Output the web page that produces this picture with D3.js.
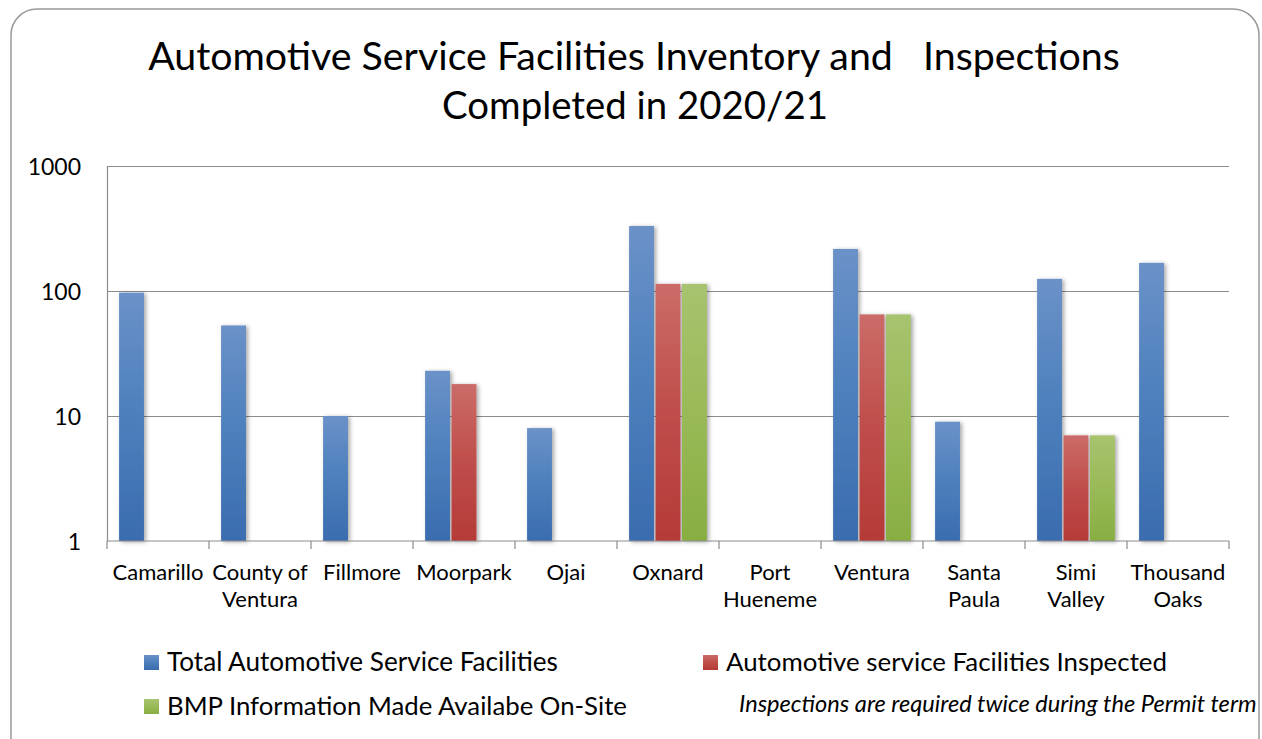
<!DOCTYPE html>
<html>
<head>
<meta charset="utf-8">
<script src="https://cdn.jsdelivr.net/npm/d3@7"></script>
<style>
  body { margin: 0; background: #fff; }
  svg text { font-family: Lato, "Open Sans", sans-serif; fill: #000; }
</style>
</head>
<body>
<svg id="chart" width="1262" height="739"></svg>
<script>
// Data
const categories = ['Camarillo', 'County of\nVentura', 'Fillmore', 'Moorpark', 'Ojai', 'Oxnard',
  'Port\nHueneme', 'Ventura', 'Santa\nPaula', 'Simi\nValley', 'Thousand\nOaks'];
const totalFacilities = [97, 53, 10, 23, 8, 331, null, 217, 9, 125, 168];
const facilitiesInspected = [null, null, null, 18, null, 114, null, 65, null, 7, null];
const bmpInfo = [null, null, null, null, null, 114, null, 65, null, 7, null];
const seriesNames = ['Total Automotive Service Facilities', 'Automotive service Facilities Inspected',
  'BMP Information Made Availabe On-Site'];
const yTicks = [1, 10, 100, 1000];

const series = [totalFacilities, facilitiesInspected, bmpInfo];
const colors = [
  { top: '#6b91c8', mid: '#4f81bd', bottom: '#3a6caf' },
  { top: '#cb6c69', mid: '#c0504d', bottom: '#b53a37' },
  { top: '#a7c36f', mid: '#9bbb59', bottom: '#88ae42' }
];

const svg = d3.select('#chart');
const margin = { top: 166, left: 107, right: 33, bottom: 198 };
const width = 1262 - margin.left - margin.right;
const height = 739 - margin.top - margin.bottom;

// scale a text's font-size so it spans the wanted width
function fitWidth(sel, w) {
  const node = sel.node();
  const fs = parseFloat(sel.attr('font-size'));
  const cur = node.getComputedTextLength ? node.getBBox().width : w;
  sel.attr('font-size', fs * w / cur);
}

// Gradients + shadow
const defs = svg.append('defs');
colors.forEach((c, i) => {
  const g = defs.append('linearGradient').attr('id', 'grad' + i)
    .attr('x1', 0).attr('y1', 0).attr('x2', 0).attr('y2', 1);
  g.append('stop').attr('offset', '0%').attr('stop-color', c.top);
  g.append('stop').attr('offset', '45%').attr('stop-color', c.mid);
  g.append('stop').attr('offset', '100%').attr('stop-color', c.bottom);
});
const shadow = defs.append('filter').attr('id', 'shadow')
  .attr('x', '-30%').attr('y', '-10%').attr('width', '170%').attr('height', '130%');
shadow.append('feDropShadow').attr('dx', 2).attr('dy', 1).attr('stdDeviation', 2)
  .attr('flood-color', '#000').attr('flood-opacity', 0.35);

// Outer rounded frame
svg.append('rect')
  .attr('x', 11).attr('y', 9).attr('width', 1248).attr('height', 760)
  .attr('rx', 26).attr('ry', 26)
  .attr('fill', '#fff').attr('stroke', '#9a9a9a').attr('stroke-width', 1.5);

// Title
const t1 = svg.append('text').attr('text-anchor', 'middle').attr('font-size', 33)
  .style('white-space', 'pre').attr('x', 634).attr('y', 70)
  .text('Automotive Service Facilities Inventory and   Inspections');
fitWidth(t1, 972);
const t2 = svg.append('text').attr('text-anchor', 'middle').attr('font-size', 33)
  .attr('x', 635).attr('y', 119).text('Completed in 2020/21');
fitWidth(t2, 386);

const g = svg.append('g').attr('transform', `translate(${margin.left},${margin.top})`);

// Scales
const x0 = d3.scaleBand().domain(categories).range([0, width]).paddingInner(0).paddingOuter(0);
const x1 = d3.scaleBand().domain([0, 1, 2]).range([10.5, x0.bandwidth() - 10.5]).padding(0.06);
const y = d3.scaleLog().domain([1, 1000]).range([height, 0]);

// Gridlines
g.append('g')
  .call(d3.axisLeft(y).tickValues(yTicks.slice(1)).tickSize(-width).tickFormat(''))
  .call(s => s.select('.domain').remove())
  .call(s => s.selectAll('line').attr('stroke', '#8c8c8c').attr('stroke-width', 1.2));

// Bars
series.forEach((vals, si) => {
  g.append('g')
    .selectAll('rect')
    .data(vals.map((v, i) => ({ cat: categories[i], v })).filter(d => d.v != null))
    .join('rect')
    .attr('x', d => x0(d.cat) + x1(si))
    .attr('y', d => y(d.v))
    .attr('width', x1.bandwidth())
    .attr('height', d => height - y(d.v))
    .attr('fill', `url(#grad${si})`)
    .attr('filter', 'url(#shadow)');
});

// Y axis
const yAxis = g.append('g')
  .call(d3.axisLeft(y).tickValues(yTicks).tickFormat(d3.format('d')).tickSize(0).tickPadding(26));
yAxis.select('.domain').attr('stroke', '#8c8c8c').attr('stroke-width', 1.2);
yAxis.selectAll('text').attr('font-size', 23).attr('dy', '0.35em');

// X axis
const xAxis = g.append('g').attr('transform', `translate(0,${height})`);
xAxis.append('line').attr('x1', 0).attr('x2', width).attr('stroke', '#8c8c8c').attr('stroke-width', 1.2);
xAxis.selectAll('.tick')
  .data(d3.range(categories.length + 1))
  .join('line')
  .attr('x1', i => i * x0.step()).attr('x2', i => i * x0.step())
  .attr('y1', 0).attr('y2', 8)
  .attr('stroke', '#8c8c8c').attr('stroke-width', 1.2);
xAxis.selectAll('text.lbl')
  .data(categories)
  .join('text')
  .attr('class', 'lbl')
  .attr('text-anchor', 'middle')
  .attr('font-size', 22)
  .each(function (d) {
    const t = d3.select(this);
    d.split('\n').forEach((line, k) => {
      t.append('tspan').attr('x', x0(d) + x0.bandwidth() / 2).attr('y', 39 + k * 27).text(line);
    });
  });

// Legend
const legendPos = [[144, 662], [703, 662], [144, 706]];
const legendW = [391, 441, 460];
const legend = svg.append('g');
seriesNames.forEach((name, i) => {
  const [lx, ly] = legendPos[i];
  legend.append('rect').attr('x', lx).attr('y', ly - 7).attr('width', 15).attr('height', 15)
    .attr('fill', `url(#grad${i})`);
  const lt = legend.append('text').attr('x', lx + 23).attr('y', ly).attr('dy', '0.35em')
    .attr('font-size', 24).text(name);
  fitWidth(lt, legendW[i]);
});

// Note
const note = svg.append('text').attr('x', 739).attr('y', 704).attr('dy', '0.35em')
  .attr('font-size', 20).attr('font-style', 'italic')
  .text('Inspections are required twice during the Permit term');
fitWidth(note, 518);
</script>
</body>
</html>
